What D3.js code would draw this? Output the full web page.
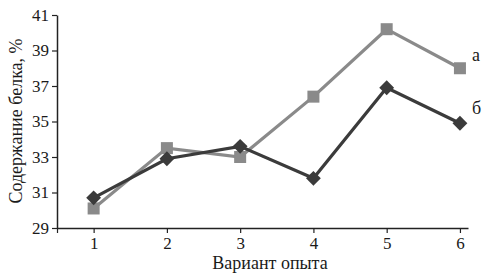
<!DOCTYPE html>
<html>
<head>
<meta charset="utf-8">
<script src="https://cdn.jsdelivr.net/npm/d3@7"></script>
<style>
  body { margin: 0; background: #fff; }
</style>
</head>
<body>
<div id="chart"></div>
<script>
'use strict';

var variants = [1, 2, 3, 4, 5, 6];
var seriesA = [30.1, 33.5, 33.0, 36.4, 40.2, 38.0];
var seriesB = [30.7, 32.9, 33.6, 31.8, 36.9, 34.9];
var yTicks = [29, 31, 33, 35, 37, 39, 41];

var width = 490, height = 278;
var serif = "'Liberation Serif'";

var svg = d3.select('#chart').append('svg')
  .attr('width', width)
  .attr('height', height);

var x = d3.scaleLinear().domain([0.5, 6.11]).range([57, 468]);
var y = d3.scaleLinear().domain([29, 41]).range([228, 15]);

function styleText(sel, size) {
  sel.style('font-family', serif).style('font-size', size + 'px').attr('fill', '#1a1a1a');
}

// axes
var yAxis = svg.append('g')
  .attr('transform', 'translate(57,0)')
  .call(d3.axisLeft(y).tickValues(yTicks).tickSize(5).tickPadding(3).tickSizeOuter(0));
yAxis.select('.domain').attr('stroke', '#222').attr('stroke-width', 1.5);
yAxis.selectAll('.tick line').attr('stroke', '#222').attr('stroke-width', 1.2);
styleText(yAxis.selectAll('text'), 17);

var xAxis = svg.append('g')
  .attr('transform', 'translate(0,228)')
  .call(d3.axisBottom(x).tickValues([0.5].concat(variants))
    .tickFormat(function(d) { return d === 0.5 ? '' : d; })
    .tickSize(5).tickPadding(4).tickSizeOuter(0));
xAxis.select('.domain').attr('stroke', '#222').attr('stroke-width', 1.5);
xAxis.selectAll('.tick line').attr('stroke', '#222').attr('stroke-width', 1.2);
styleText(xAxis.selectAll('text'), 17);

// titles
styleText(svg.append('text')
  .attr('transform', 'translate(22,121) rotate(-90)')
  .attr('text-anchor', 'middle')
  .text('Содержание белка, %'), 18);

styleText(svg.append('text')
  .attr('x', 270).attr('y', 269)
  .attr('text-anchor', 'middle')
  .text('Вариант опыта'), 18);

var line = d3.line()
  .x(function(d, i) { return x(variants[i]); })
  .y(function(d) { return y(d); });

var grayColor = '#8a8a8a', darkColor = '#3b3b3b';

svg.append('path').datum(seriesA)
  .attr('d', line).attr('fill', 'none')
  .attr('stroke', grayColor).attr('stroke-width', 3.2);

svg.append('path').datum(seriesB)
  .attr('d', line).attr('fill', 'none')
  .attr('stroke', darkColor).attr('stroke-width', 3.2);

svg.selectAll('.sq').data(seriesA).enter().append('rect')
  .attr('class', 'sq')
  .attr('x', function(d, i) { return x(variants[i]) - 6; })
  .attr('y', function(d) { return y(d) - 6; })
  .attr('width', 12).attr('height', 12)
  .attr('fill', grayColor);

svg.selectAll('.dm').data(seriesB).enter().append('path')
  .attr('class', 'dm')
  .attr('transform', function(d, i) { return 'translate(' + x(variants[i]) + ',' + y(d) + ') rotate(45)'; })
  .attr('d', d3.symbol().type(d3.symbolSquare).size(110))
  .attr('fill', darkColor);

// series labels
styleText(svg.append('text').attr('x', 472).attr('y', 61).text('а'), 18);
styleText(svg.append('text').attr('x', 472).attr('y', 114).text('б'), 18);
</script>
</body>
</html>
